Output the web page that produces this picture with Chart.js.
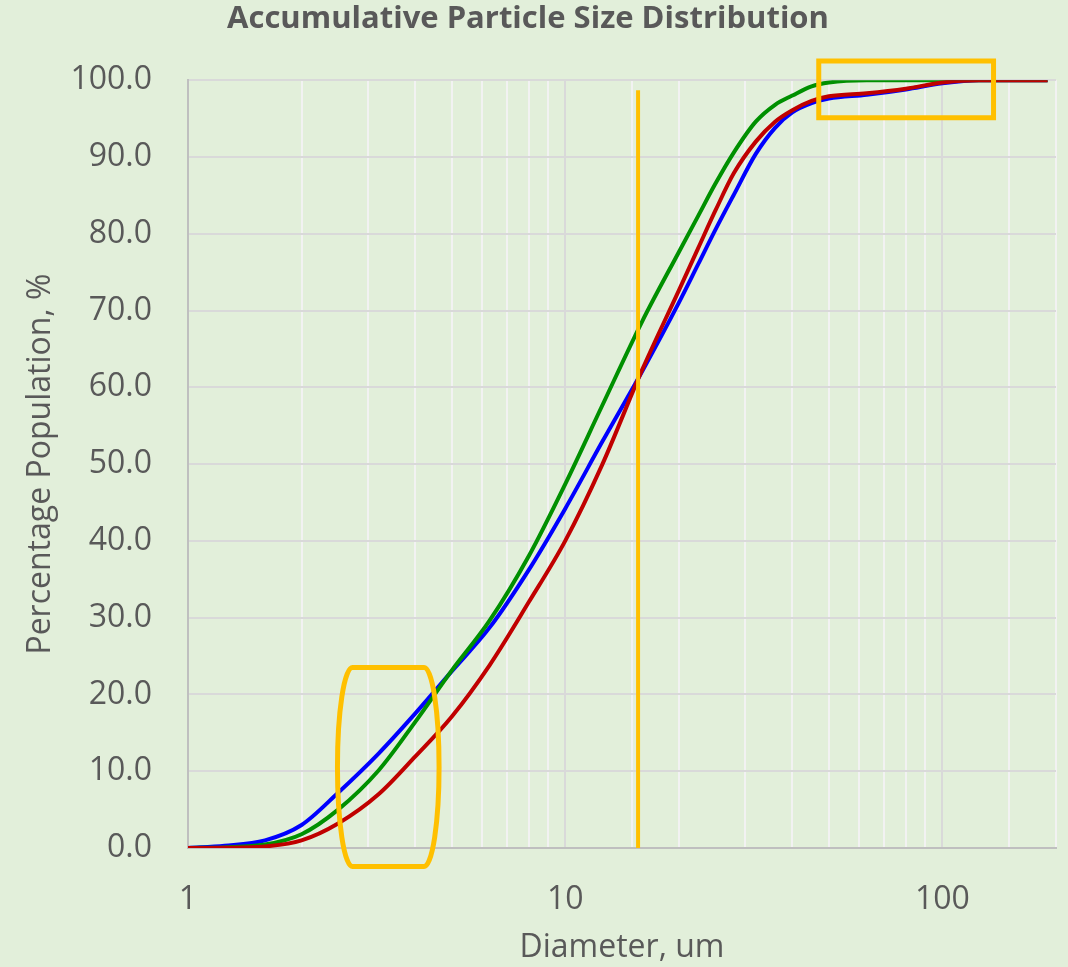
<!DOCTYPE html>
<html>
<head>
<meta charset="utf-8">
<script src="https://cdn.jsdelivr.net/npm/chart.js@4.4.1/dist/chart.umd.min.js"></script>
<style>
  html, body { margin: 0; padding: 0; background: #e2efda; }
  canvas { display: block; }
</style>
</head>
<body>
<canvas id="chart" width="1068" height="967"></canvas>
<script>
// particle diameters (um) and cumulative % for each sample
const diameters = [1, 1.25, 1.6, 2, 2.5, 3.2, 4, 5, 6.3, 8, 10, 12.5, 16, 20, 22.5, 25, 28, 32, 36, 40, 45, 50, 63, 80, 100, 125, 160, 190];
const blueValues  = [0, 0.3, 1.0, 3.0, 7.2, 12.3, 17.5, 23.0, 28.7, 36.2, 44.2, 52.8, 62.1, 71.0, 76.0, 80.5, 85.1, 90.4, 93.8, 95.8, 97.0, 97.6, 98.1, 98.8, 99.6, 100, 100, 100];
const greenValues = [0, 0.08, 0.45, 1.8, 5.0, 10.1, 16.4, 23.1, 29.6, 38.0, 47.4, 57.5, 68.6, 77.6, 82.3, 86.5, 90.6, 94.6, 96.8, 98.0, 99.2, 99.7, 100, 100, 100, 100, 100, 100];
const redValues   = [0, 0.03, 0.2, 1.0, 3.2, 7.0, 11.9, 17.1, 23.8, 32.0, 40.0, 49.8, 62.3, 72.6, 78.1, 83.0, 87.9, 92.0, 94.6, 96.1, 97.3, 97.9, 98.3, 98.9, 99.7, 100, 100, 100];
const markerDiameter = 15.6;
const markerTop = 98.7;
const xLabels = [1, 10, 100];

const pts = vals => diameters.map((d, i) => ({ x: d, y: vals[i] }));

// orange highlight boxes, in data units
const boxes = [
  { kind: "barrel", x0: 2.49, x1: 4.63, y0: -2.4, y1: 23.5 },
  { kind: "rect", x0: 47, x1: 136.6, y0: 95.1, y1: 102.5 }
];

const highlight = {
  id: "highlight",
  afterDatasetsDraw(chart) {
    const { ctx, scales: { x, y } } = chart;
    ctx.save();
    ctx.strokeStyle = "#FFC000";
    ctx.lineWidth = 5;
    for (const b of boxes) {
      const l = x.getPixelForValue(b.x0), r = x.getPixelForValue(b.x1);
      const t = y.getPixelForValue(b.y1), bt = y.getPixelForValue(b.y0);
      ctx.beginPath();
      if (b.kind === "rect") {
        ctx.rect(l, t, r - l, bt - t);
      } else {
        const rx = 15, ry = (bt - t) / 2, mid = (t + bt) / 2;
        ctx.moveTo(l + rx, t);
        ctx.lineTo(r - rx, t);
        ctx.ellipse(r - rx, mid, rx, ry, 0, -Math.PI / 2, Math.PI / 2);
        ctx.lineTo(l + rx, bt);
        ctx.ellipse(l + rx, mid, rx, ry, 0, Math.PI / 2, Math.PI * 1.5);
        ctx.closePath();
      }
      ctx.stroke();
    }
    ctx.restore();
  }
};

const font = "'Open Sans', sans-serif";

new Chart(document.getElementById("chart"), {
  type: "scatter",
  data: {
    datasets: [
      { data: [{ x: markerDiameter, y: 0 }, { x: markerDiameter, y: markerTop }], borderColor: "#FFC000", borderWidth: 4, showLine: true, pointRadius: 0 },
      { data: pts(redValues), borderColor: "#C00000", borderWidth: 4, showLine: true, pointRadius: 0, cubicInterpolationMode: "monotone" },
      { data: pts(greenValues), borderColor: "#009000", borderWidth: 4, showLine: true, pointRadius: 0, cubicInterpolationMode: "monotone" },
      { data: pts(blueValues), borderColor: "#0000FF", borderWidth: 4, showLine: true, pointRadius: 0, cubicInterpolationMode: "monotone" }
    ]
  },
  options: {
    responsive: false,
    animation: false,
    devicePixelRatio: 1,
    layout: { padding: { left: 0, right: 12, top: 0, bottom: 0 } },
    plugins: {
      legend: { display: false },
      tooltip: { enabled: false },
      title: {
        display: true,
        text: "Accumulative Particle Size Distribution",
        color: "#595959",
        font: { family: font, size: 31, weight: "bold" },
        padding: { top: 1, bottom: 42 }
      }
    },
    scales: {
      x: {
        type: "logarithmic",
        min: 1,
        max: 200,
        afterFit: s => { s.height = 119; s.paddingLeft = 0; s.paddingRight = 0; },
        border: { color: "#bfbfbf", width: 2 },
        grid: {
          drawTicks: false,
          lineWidth: 2,
          color: c => xLabels.includes(c.tick && c.tick.value) ? "#d9d9d9" : "#f2f2f2"
        },
        ticks: {
          autoSkip: false,
          maxRotation: 0,
          padding: 33,
          color: "#595959",
          font: { family: font, size: 32 },
          callback: v => xLabels.includes(v) ? String(v) : ""
        },
        title: {
          display: true,
          text: "Diameter, um",
          color: "#595959",
          font: { family: font, size: 32 },
          padding: { top: 0, bottom: 0 }
        }
      },
      y: {
        min: 0,
        max: 100,
        afterFit: s => { s.width = 188; },
        border: { color: "#bfbfbf", width: 2 },
        grid: { drawTicks: false, color: "#d9d9d9", lineWidth: 2 },
        ticks: {
          stepSize: 10,
          padding: 36,
          color: "#595959",
          font: { family: font, size: 32 },
          callback: v => v.toFixed(1)
        },
        title: {
          display: true,
          text: "Percentage Population, %",
          color: "#595959",
          font: { family: font, size: 32 },
          padding: { top: 22, bottom: 0 }
        }
      }
    }
  },
  plugins: [highlight]
});
</script>
</body>
</html>
